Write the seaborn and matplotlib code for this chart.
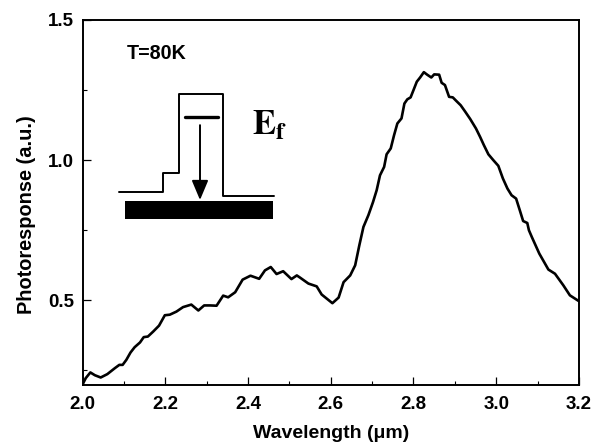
import numpy as np
import pandas as pd
import seaborn as sns
import matplotlib.pyplot as plt
from matplotlib.ticker import MultipleLocator

#Curve
wavelength = [2.0, 2.008, 2.019, 2.03, 2.044, 2.06, 2.078, 2.089, 2.097, 2.106, 2.116, 2.126, 2.139, 2.148,
              2.158, 2.171, 2.185, 2.199, 2.211, 2.227, 2.243, 2.263, 2.28, 2.294, 2.308, 2.324, 2.34, 2.352,
              2.369, 2.387, 2.406, 2.427, 2.441, 2.455, 2.469, 2.485, 2.505, 2.518, 2.526, 2.546, 2.566, 2.578,
              2.604, 2.619, 2.631, 2.647, 2.659, 2.669, 2.679, 2.691, 2.702, 2.711, 2.719, 2.729, 2.735, 2.745,
              2.753, 2.761, 2.771, 2.778, 2.785, 2.793, 2.8, 2.808, 2.816, 2.825, 2.833, 2.843, 2.85, 2.862,
              2.868, 2.876, 2.886, 2.895, 2.903, 2.914, 2.925, 2.937, 2.951, 2.961, 2.97, 2.981, 2.993, 3.005,
              3.016, 3.027, 3.037, 3.048, 3.057, 3.065, 3.075, 3.079, 3.086, 3.104, 3.126, 3.142, 3.162, 3.178,
              3.199]
response = [0.2, 0.223, 0.243, 0.233, 0.225, 0.237, 0.258, 0.27, 0.27, 0.288, 0.314, 0.333, 0.35, 0.369,
            0.371, 0.389, 0.41, 0.447, 0.449, 0.46, 0.476, 0.485, 0.464, 0.482, 0.482, 0.481, 0.517, 0.511,
            0.529, 0.574, 0.588, 0.577, 0.607, 0.619, 0.594, 0.604, 0.576, 0.589, 0.581, 0.56, 0.55, 0.521,
            0.49, 0.51, 0.565, 0.589, 0.625, 0.696, 0.762, 0.804, 0.85, 0.893, 0.946, 0.976, 1.021, 1.042,
            1.089, 1.131, 1.149, 1.202, 1.217, 1.224, 1.25, 1.28, 1.295, 1.314, 1.305, 1.295, 1.306, 1.305,
            1.276, 1.268, 1.226, 1.224, 1.212, 1.196, 1.173, 1.147, 1.113, 1.083, 1.054, 1.021, 1.0, 0.98,
            0.935, 0.899, 0.875, 0.863, 0.821, 0.783, 0.776, 0.75, 0.726, 0.667, 0.61, 0.595, 0.554, 0.518,
            0.498]

#Band diagram in the inset
band_x = [2.089, 2.194, 2.194, 2.234, 2.234, 2.34, 2.34, 2.464]
band_y = [0.886, 0.886, 0.955, 0.955, 1.236, 1.236, 0.874, 0.874]
level_x = [2.248, 2.327]
level_y = [1.155, 1.155]

sns.set_theme(style='ticks')
plt.rcParams['font.family'] = ['Liberation Sans', 'DejaVu Sans']
plt.rcParams['mathtext.fontset'] = 'stix'

df = pd.DataFrame({'wavelength': wavelength, 'response': response})

fig = plt.figure(figsize=(5.94, 4.43), dpi=100)
ax = fig.add_axes([82.5/594, 1-384.5/443, (579-82.5)/594, (384.5-20)/443])
sns.lineplot(data=df, x='wavelength', y='response', color='black', linewidth=1.9, estimator=None, sort=False, ax=ax)
sns.lineplot(x=band_x, y=band_y, color='black', linewidth=1.4, estimator=None, sort=False, ax=ax)
sns.lineplot(x=level_x, y=level_y, color='black', linewidth=2.4, estimator=None, sort=False, ax=ax)

#Black bar and arrow
ax.fill_between([2.102, 2.46], 0.789, 0.854, color='black', linewidth=0)
ax.annotate('', xy=(2.284, 0.858), xytext=(2.284, 1.125),
            arrowprops=dict(arrowstyle='-|>,head_width=0.42,head_length=1.0', color='black', lw=1.4, shrinkA=0, shrinkB=0))

ax.set_xlim(2.0, 3.2)
ax.set_ylim(0.2, 1.5)
ax.xaxis.set_major_locator(MultipleLocator(0.2))
ax.xaxis.set_minor_locator(MultipleLocator(0.1))
ax.yaxis.set_major_locator(MultipleLocator(0.5))
ax.yaxis.set_minor_locator(MultipleLocator(0.25))
ax.tick_params(which='major', direction='in', length=5.5, width=0.9, labelsize=13.5, color='black', labelcolor='black')
ax.tick_params(which='minor', direction='in', length=3, width=0.8, color='black')
ax.tick_params(axis='x', which='major', pad=8)
ax.tick_params(axis='y', which='major', pad=6)
ax.xaxis.set_major_formatter('{x:.1f}')
ax.yaxis.set_major_formatter('{x:.1f}')
for lab in ax.get_xticklabels() + ax.get_yticklabels():
    lab.set_fontweight('bold')
for s in ax.spines.values():
    s.set_linewidth(1.4)
    s.set_color('black')

ax.set_xlabel('Wavelength (\u03bcm)', fontsize=14, fontweight='bold', color='black', labelpad=9)
ax.set_ylabel('Photoresponse (a.u.)', fontsize=14.4, fontweight='bold', color='black', va='center')
ax.yaxis.set_label_coords(-0.112, 0.465)

ax.text(2.108, 1.379, 'T=80K', fontsize=14.2, fontweight='bold', color='black', va='center', ha='left')
ax.text(2.41, 1.125, r'$\mathbf{E_f}$', fontsize=25, color='black', va='center', ha='left')

fig.savefig('out.png', dpi=100)
